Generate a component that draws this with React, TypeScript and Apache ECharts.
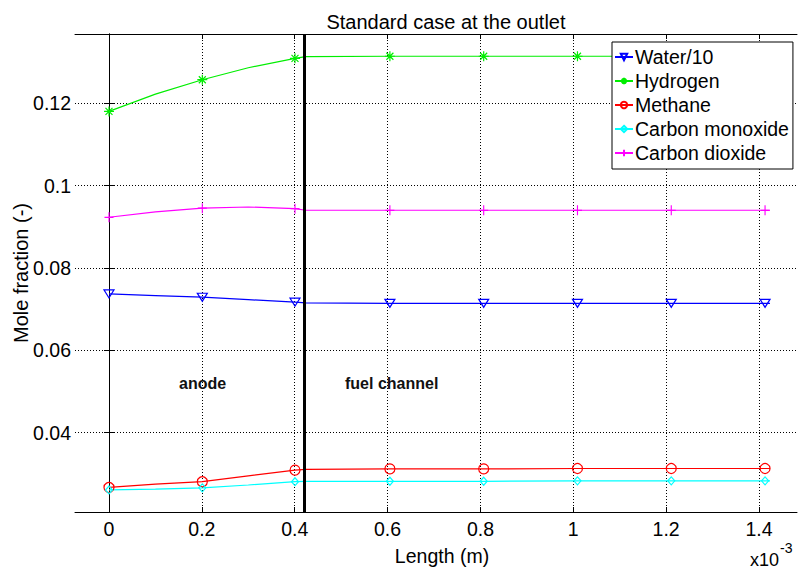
import React, { useEffect, useRef } from 'react';
import * as echarts from 'echarts';

// Length along the cell (units of 1e-3 m)
const lengthPts = [0, 0.1, 0.201, 0.3, 0.4006, 0.4236, 0.605, 0.807, 1.009, 1.211, 1.413, 1.4236];
// 1 = a marker is drawn at this sample
const markerAt = [1, 0, 1, 0, 1, 0, 1, 1, 1, 1, 1, 0];

const water = [0.0737, 0.0733, 0.0729, 0.0723, 0.0717, 0.0715, 0.0714, 0.0714, 0.0714, 0.0714, 0.0714, 0.0714];
const hydrogen = [0.118, 0.1222, 0.1257, 0.1286, 0.1309, 0.1313, 0.1314, 0.1314, 0.1314, 0.1314, 0.1314, 0.1314];
const methane = [0.0267, 0.0275, 0.0281, 0.0295, 0.0309, 0.0311, 0.0312, 0.0312, 0.0313, 0.0313, 0.0313, 0.0313];
const carbonMonoxide = [0.0261, 0.0263, 0.0266, 0.0273, 0.0281, 0.0282, 0.0282, 0.0282, 0.0283, 0.0283, 0.0283, 0.0283];
const carbonDioxide = [0.0923, 0.0936, 0.0945, 0.0948, 0.0944, 0.094, 0.094, 0.094, 0.094, 0.094, 0.094, 0.094];

const seriesNames = ['Water/10', 'Hydrogen', 'Methane', 'Carbon monoxide', 'Carbon dioxide'];
const xTicks = [0, 0.2, 0.4, 0.6, 0.8, 1, 1.2, 1.4];
const yTicks = [0.04, 0.06, 0.08, 0.1, 0.12];
const xRange = [-0.0732, 1.4818];
const yRange = [0.02074, 0.1368];
const anodeEnd = 0.4236;

const FONT = 'Liberation Sans, Arial, sans-serif';

export default function App() {
  const ref = useRef<HTMLDivElement>(null);

  useEffect(() => {
    document.body.style.margin = '0';
    const chart = echarts.init(ref.current!, undefined, { renderer: 'svg' });

    const styles = [
      { color: '#0000ff', symbol: 'path://M0,0L10,0L5,8.66Z', size: [10, 8] },
      { color: '#00ee00', symbol: 'path://M5,0L5,10M0,5L10,5M1.5,1.5L8.5,8.5M1.5,8.5L8.5,1.5', size: [10, 10] },
      { color: '#ff0000', symbol: 'circle', size: 10 },
      { color: '#00ffff', symbol: 'diamond', size: [7, 8] },
      { color: '#ff00ff', symbol: 'path://M5,0L5,10M0,5L10,5', size: [9, 10] },
    ];
    const values = [water, hydrogen, methane, carbonMonoxide, carbonDioxide];

    const series: any[] = values.map((vals, k) => {
      const st = styles[k];
      const s: any = {
        type: 'line',
        name: seriesNames[k],
        data: lengthPts.map((x, i) => ({
          value: [x, vals[i]],
          symbol: markerAt[i] ? st.symbol : 'none',
        })),
        symbol: st.symbol,
        symbolSize: st.size,
        showSymbol: true,
        lineStyle: { color: st.color, width: 1.2 },
        itemStyle: { color: 'rgba(255,255,255,0)', borderColor: st.color, borderWidth: 1.2 },
        emphasis: { disabled: true },
        z: 3,
      };
      if (k === 0) {
        s.markLine = {
          silent: true,
          symbol: ['none', 'none'],
          label: { show: false },
          lineStyle: { color: '#000', width: 3, type: 'solid' },
          data: [{ xAxis: anodeEnd }],
          z: 5,
        };
      }
      return s;
    });

    const axisCommon = {
      type: 'value',
      axisLine: { show: true, lineStyle: { color: '#000', width: 1 } },
    };
    const gridLine = { show: true, lineStyle: { color: '#000', type: [1, 2], width: 1 } };

    chart.setOption({
      animation: false,
      title: {
        text: 'Standard case at the outlet',
        left: 441,
        textAlign: 'center',
        top: 7,
        textStyle: { fontFamily: FONT, fontSize: 20, fontWeight: 'normal', color: '#000' },
      },
      grid: { left: 75, top: 34, right: 1, bottom: 59, containLabel: false, outerBoundsMode: 'none' },
      legend: {
        orient: 'vertical',
        left: 612,
        top: 42,
        padding: [5, 4, 6, 2],
        itemGap: 4,
        itemWidth: 18,
        itemHeight: 8,
        backgroundColor: '#fff',
        borderColor: '#000',
        borderWidth: 1,
        textStyle: { fontFamily: FONT, fontSize: 19.5, color: '#000', lineHeight: 20, padding: [0, 0, 0, -3] },
        data: seriesNames,
        z: 10,
      },
      xAxis: [
        {
          ...axisCommon,
          position: 'bottom',
          min: xRange[0],
          max: xRange[1],
          name: 'Length (m)',
          nameLocation: 'middle',
          nameGap: 34,
          nameMoveOverlap: false,
          nameTextStyle: { fontFamily: FONT, fontSize: 19.5, color: '#000', padding: [0, 0, 0, 12] },
          axisTick: { show: true, inside: true, length: 5, customValues: xTicks, lineStyle: { color: '#000' } },
          axisLabel: {
            customValues: xTicks,
            margin: 7,
            fontFamily: FONT,
            fontSize: 19.5,
            color: '#000',
            formatter: (v: number) => String(Math.round(v * 10) / 10),
          },
          splitLine: gridLine,
        },
        {
          ...axisCommon,
          position: 'top',
          min: xRange[0],
          max: xRange[1],
          axisTick: { show: true, inside: true, length: 5, customValues: xTicks, lineStyle: { color: '#000' } },
          axisLabel: { show: false },
          splitLine: { show: false },
        },
      ],
      yAxis: [
        {
          ...axisCommon,
          position: 'left',
          min: yRange[0],
          max: yRange[1],
          name: 'Mole fraction (-)',
          nameLocation: 'middle',
          nameGap: 44,
          nameMoveOverlap: false,
          nameTextStyle: { fontFamily: FONT, fontSize: 20, color: '#000' },
          axisTick: { show: true, inside: true, length: 5, customValues: yTicks, lineStyle: { color: '#000' } },
          axisLabel: {
            customValues: yTicks,
            margin: 4,
            fontFamily: FONT,
            fontSize: 19.5,
            color: '#000',
            formatter: (v: number) => String(Math.round(v * 100) / 100),
          },
          splitLine: gridLine,
        },
        {
          ...axisCommon,
          position: 'right',
          min: yRange[0],
          max: yRange[1],
          axisTick: { show: true, inside: true, length: 5, customValues: yTicks, lineStyle: { color: '#000' } },
          axisLabel: { show: false },
          splitLine: { show: false },
        },
      ],
      graphic: [
        { type: 'text', left: 179, top: 375, style: { text: 'anode', fontFamily: FONT, fontSize: 16, fontWeight: 'bold', fill: '#111' }, z: 20 },
        { type: 'text', left: 345, top: 375, style: { text: 'fuel channel', fontFamily: FONT, fontSize: 16, fontWeight: 'bold', fill: '#111' }, z: 20 },
        { type: 'text', left: 750, top: 551, style: { text: 'x10', fontFamily: FONT, fontSize: 18, fill: '#000' }, z: 20 },
        { type: 'text', left: 780, top: 541, style: { text: '-3', fontFamily: FONT, fontSize: 14, fill: '#000' }, z: 20 },
      ],
      series,
    });

    return () => chart.dispose();
  }, []);

  return <div ref={ref} style={{ position: 'absolute', left: 0, top: 0, width: 798, height: 571 }} />;
}
